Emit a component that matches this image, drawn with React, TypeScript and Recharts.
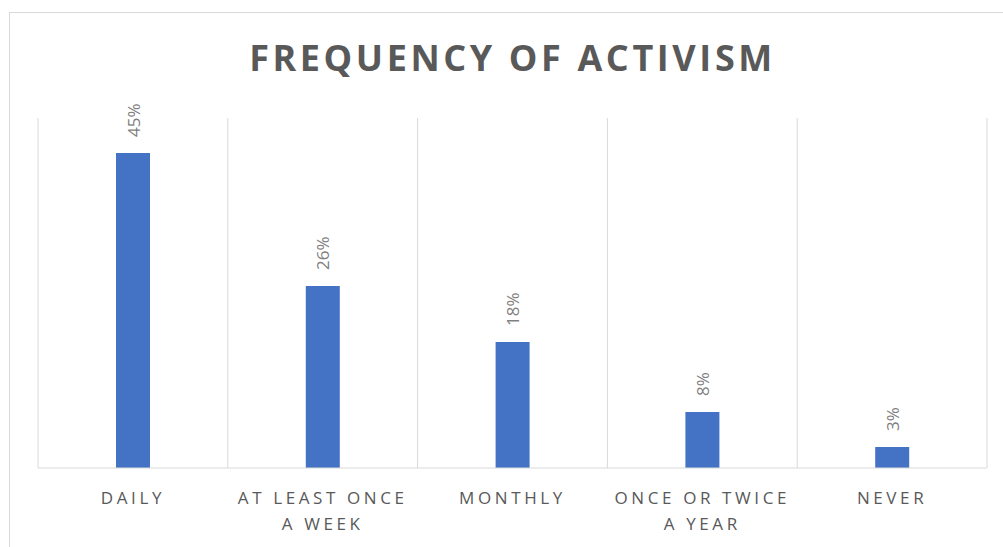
import { Bar, BarChart, CartesianGrid, LabelList, XAxis, YAxis } from 'recharts'

const categories = ['DAILY', 'AT LEAST ONCE A WEEK', 'MONTHLY', 'ONCE OR TWICE A YEAR', 'NEVER']
const shares = [45, 26, 18, 8, 3]

const data = categories.map((name, i) => ({ name, value: shares[i] }))

const textGray = '#595959'
const gridGray = '#d9d9d9'
const font = '"Open Sans", sans-serif'

function wrap(text: string, maxChars = 14) {
  const lines: string[] = []
  let cur = ''
  for (const w of text.split(' ')) {
    const next = cur ? cur + ' ' + w : w
    if (next.length > maxChars && cur) {
      lines.push(cur)
      cur = w
    } else cur = next
  }
  if (cur) lines.push(cur)
  return lines
}

function CategoryTick(props: any) {
  const { x, y, payload } = props
  const lines = wrap(String(payload.value))
  return (
    <text x={x} y={y + 28} textAnchor="middle" fill={textGray} fontFamily={font} fontSize={17} letterSpacing={3.6}>
      {lines.map((l, i) => (
        <tspan key={i} x={x} dy={i === 0 ? 0 : 26}>
          {l}
        </tspan>
      ))}
    </text>
  )
}

function ValueLabel(props: any) {
  const { x, y, width, value } = props
  const cx = x + width / 2
  const ty = y - 16
  return (
    <text
      x={cx}
      y={ty}
      transform={`rotate(-90 ${cx} ${ty})`}
      textAnchor="start"
      dominantBaseline="central"
      fill="#7f7f7f"
      fontFamily={font}
      fontSize={17}
    >
      {value}%
    </text>
  )
}

export default function App() {
  return (
    <div style={{ position: 'absolute', left: 0, top: 0, width: 1003, height: 547, overflow: 'hidden', background: '#fff' }}>
      <div
        style={{
          position: 'absolute',
          left: 9,
          top: 12,
          width: 1100,
          height: 700,
          border: `1px solid ${gridGray}`,
        }}
      />
      <div
        style={{
          position: 'absolute',
          left: 38,
          width: 949,
          top: 33,
          textAlign: 'center',
          fontFamily: font,
          fontWeight: 700,
          fontSize: 36,
          letterSpacing: 3.6,
          color: textGray,
        }}
      >
        FREQUENCY OF ACTIVISM
      </div>
      <div style={{ position: 'absolute', left: 0, top: 0 }}>
        <BarChart width={1003} height={547} data={data} margin={{ top: 118, right: 16, bottom: 19, left: 38 }}>
          <CartesianGrid
            horizontal={false}
            stroke={gridGray}
            verticalCoordinatesGenerator={({ offset }: any) =>
              categories.map((_, i) => offset.left + (i * offset.width) / categories.length).concat(offset.left + offset.width)
            }
          />
          <XAxis
            dataKey="name"
            height={60}
            axisLine={{ stroke: gridGray }}
            tickLine={false}
            interval={0}
            tick={<CategoryTick />}
          />
          <YAxis hide domain={[0, 50]} />
          <Bar dataKey="value" fill="#4472c4" barSize={34} isAnimationActive={false}>
            <LabelList dataKey="value" content={<ValueLabel />} />
          </Bar>
        </BarChart>
      </div>
    </div>
  )
}
